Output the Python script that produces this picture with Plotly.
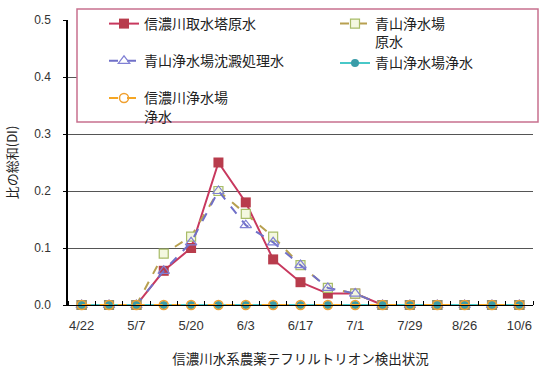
import plotly.graph_objects as go

# ---- data ----
idx = list(range(17))
tick_idx = [0, 2, 4, 6, 8, 10, 12, 14, 16]
tick_labels = ["4/22", "5/7", "5/20", "6/3", "6/17", "7/1", "7/29", "8/26", "10/6"]

names = ["信濃川取水塔原水", "青山浄水場<br>原水", "青山浄水場沈澱処理水", "青山浄水場浄水", "信濃川浄水場<br>浄水"]
shinano_intake_raw = [0, 0, 0, 0.06, 0.10, 0.25, 0.18, 0.08, 0.04, 0.02, 0.02, 0, 0, 0, 0, 0, 0]
aoyama_raw = [0, 0, 0, 0.09, 0.12, 0.20, 0.16, 0.12, 0.07, 0.03, 0.02, 0, 0, 0, 0, 0, 0]
aoyama_settled = [0, 0, 0, 0.06, 0.11, 0.20, 0.14, 0.11, 0.07, 0.03, 0.02, 0, 0, 0, 0, 0, 0]
aoyama_treated = [0] * 17
shinano_treated = [0] * 17

y_title = "比の総和(DI)"
x_title = "信濃川水系農薬テフリルトリオン検出状況"

CJK = "Noto Sans CJK JP, sans-serif"
NUM = "Liberation Sans, Arial, sans-serif"

fig = go.Figure()

fig.add_trace(go.Scatter(
    x=idx, y=shinano_intake_raw, name=names[0], mode="lines+markers",
    legend="legend", legendgroup="g1",
    line=dict(color="#C8385E", width=2),
    marker=dict(symbol="square", size=10, color="#B83C4C", line=dict(width=0)),
    cliponaxis=False))
fig.add_trace(go.Scatter(
    x=idx, y=aoyama_raw, name=names[1], mode="lines+markers",
    legend="legend2", legendgroup="g2",
    line=dict(color="#B8A050", width=2, dash="dash"),
    marker=dict(symbol="square", size=9, color="#F4F8E0", line=dict(width=1.2, color="#A8BC68")),
    cliponaxis=False))
fig.add_trace(go.Scatter(
    x=idx, y=aoyama_settled, name=names[2], mode="lines+markers",
    legend="legend", legendgroup="g3",
    line=dict(color="#7070C8", width=2, dash="dash"),
    marker=dict(symbol="triangle-up-open", size=10, color="#8080D4", line=dict(width=1.2)),
    cliponaxis=False))

# overlapping markers where the three upper series all sit at zero
zero_x = [i for i in idx if shinano_intake_raw[i] == 0 and aoyama_raw[i] == 0]
zero_y = [shinano_intake_raw[i] for i in zero_x]
fig.add_trace(go.Scatter(
    x=zero_x, y=zero_y, mode="markers", showlegend=False, hoverinfo="skip",
    marker=dict(symbol="square", size=10, color="#8E8C70", line=dict(width=0)),
    cliponaxis=False))

fig.add_trace(go.Scatter(
    x=idx, y=aoyama_treated, name=names[3], mode="lines+markers",
    legend="legend2", legendgroup="g2",
    line=dict(color="#48C8C8", width=2),
    marker=dict(symbol="circle", size=8, color="#3A9CA8", line=dict(width=0)),
    cliponaxis=False))
fig.add_trace(go.Scatter(
    x=idx, y=shinano_treated, name=names[4], mode="lines+markers",
    legend="legend", legendgroup="g5",
    line=dict(color="#F5A623", width=2, dash="dash"),
    marker=dict(symbol="circle-open", size=9, color="#F0A030", line=dict(width=1.5)),
    cliponaxis=False))

PL, PR, PT, PB = 68, 6, 20, 68
W, H = 539, 373
pw, ph = W - PL - PR, H - PT - PB

def px_x(p):
    return (p - PL) / pw

def px_y(p):
    return (H - PB - p) / ph

fig.add_shape(type="rect", xref="paper", yref="paper",
              x0=px_x(77), x1=px_x(538), y0=px_y(122), y1=px_y(9),
              line=dict(color="#C8708E", width=1.5), fillcolor="white", layer="above")

legend_common = dict(
    orientation="v", xanchor="left", yanchor="top", valign="top",
    bgcolor="rgba(0,0,0,0)", borderwidth=0,
    font=dict(family=CJK, size=14, color="#222"),
)

fig.update_layout(
    width=W, height=H,
    margin=dict(l=PL, r=PR, t=PT, b=PB, pad=0),
    paper_bgcolor="white", plot_bgcolor="white",
    font=dict(family=CJK, size=13, color="#222"),
    showlegend=True,
    legend=dict(x=px_x(104), y=px_y(8), tracegroupgap=16, **legend_common),
    legend2=dict(x=px_x(335), y=px_y(8), tracegroupgap=0, **legend_common),
    xaxis=dict(
        range=[-0.5, 16.5], tickmode="array", tickvals=tick_idx, ticktext=tick_labels,
        showgrid=False, zeroline=False, showline=True, linecolor="black", linewidth=1,
        ticks="", tickfont=dict(family=NUM, size=13, color="#333"),
        ticklabelstandoff=8,
        minor=dict(tickmode="array", tickvals=[i + 0.5 for i in range(-1, 17)],
                   ticks="inside", ticklen=4, tickcolor="black", tickwidth=1, showgrid=False),
        title=dict(text=x_title, font=dict(family=CJK, size=13.5, color="#222"), standoff=22),
    ),
    yaxis=dict(
        range=[0, 0.5], tickmode="array", tickvals=[0, 0.1, 0.2, 0.3, 0.4, 0.5],
        tickformat=".1f", showgrid=True, gridcolor="#555", gridwidth=1,
        zeroline=False, showline=True, linecolor="black", linewidth=1.5,
        ticks="outside", ticklen=3, tickcolor="black",
        tickfont=dict(family=NUM, size=12, color="#333"), ticklabelstandoff=10,
        title=dict(text=y_title, font=dict(family=CJK, size=13, color="#222"), standoff=14),
    ),
)

fig.write_html("out.html")
